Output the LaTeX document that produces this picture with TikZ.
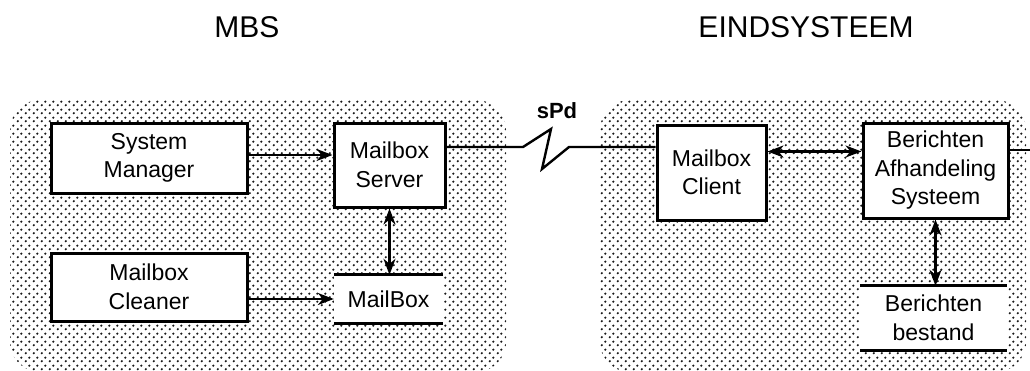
\documentclass[tikz,border=0pt]{standalone}
\usepackage{fontspec}
\setmainfont{Liberation Sans}
\usetikzlibrary{arrows.meta,patterns.meta}
\tikzdeclarepattern{name=mydots, type=uncolored,
  bottom left={(0pt,0pt)}, top right={(8pt,8pt)}, tile size={(8pt,8pt)},
  code={\fill (2pt,2pt) circle (1.35pt); \fill (6pt,6pt) circle (1.35pt);}}
\newcommand\mybody{\fontsize{23}{28.5}\selectfont}
\newcommand\myhead{\fontsize{30}{36}\selectfont}
\newcommand\myspd{\fontsize{22}{26}\selectfont\bfseries}
\begin{document}
\begin{tikzpicture}[x=1pt,y=-1pt,
  panel/.style={pattern={mydots}, pattern color=black!90, rounded corners=30pt},
  box/.style={draw, line width=3pt, fill=white, align=center, font=\mybody, inner sep=0pt},
  store/.style={fill=white, align=center, font=\mybody, inner sep=0pt},
  storeline/.style={line width=3pt},
  conn/.style={line width=2.4pt},
  tip/.tip={Stealth[length=16pt,width=12pt,inset=5pt]},
  arr/.style={conn, -tip},
  darr/.style={conn, tip-tip},
  title/.style={font=\myhead, anchor=base, inner sep=0pt}
]
\useasboundingbox (0,0) rectangle (1030,370);
% panels
\fill[panel] (10,100) rectangle (506,372);
\fill[panel] (600,100) rectangle (1026,372);
% titles
\node[title] (mbs) at (247,37) {MBS};
\node[title] (eind) at (806,37) {EINDSYSTEEM};
\node[font=\myspd, anchor=base, inner sep=0pt] (spd) at (557,118) {sPd};
% boxes
\node[box, minimum width=196pt, minimum height=70pt] (sm) at (149,158) {System\\Manager};
\node[box, minimum width=111pt, minimum height=84pt] (ms) at (389.5,165) {Mailbox\\Server};
\node[box, minimum width=196pt, minimum height=68pt] (mc) at (149,287) {Mailbox\\Cleaner};
\node[store, minimum width=109pt, minimum height=48pt] (mb) at (388.5,299) {MailBox};
\draw[storeline] (mb.north west) -- (mb.north east);
\draw[storeline] (mb.south west) -- (mb.south east);
\node[box, minimum width=109pt, minimum height=95pt] (mcl) at (711.5,172.5) {Mailbox\\Client};
\node[box, minimum width=145pt, minimum height=95pt] (bas) at (935.5,170.5) {Berichten\\Afhandeling\\Systeem};
\node[store, minimum width=147pt, minimum height=64pt] (bb) at (933.5,318) {Berichten\\bestand};
\draw[storeline] (bb.north west) -- (bb.north east);
\draw[storeline] (bb.south west) -- (bb.south east);
% connectors
\draw[arr] ([yshift=3pt]sm.east) -- ([yshift=3pt]sm.east -| ms.west);
\draw[arr] (mc.east |- mb.center) -- (mb.west);
\draw[darr] (ms.south) -- (ms.south |- mb.north);
\coordinate (z1) at (523,147);
\coordinate (z2) at (551,129);
\coordinate (z3) at (542,169);
\coordinate (z4) at (569,147);
\draw[conn, line join=miter] (ms.east |- z1) -- (z1) -- (z2) -- (z3) -- (z4) -- (z4 -| mcl.west);
\draw[darr] ([yshift=21pt]mcl.east) -- ([yshift=21pt]mcl.east -| bas.west);
\draw[darr] (bas.south) -- (bas.south |- bb.north);
\coordinate (edge) at (1030,150);
\draw[conn] (bas.east |- edge) -- (edge);
\end{tikzpicture}
\end{document}
